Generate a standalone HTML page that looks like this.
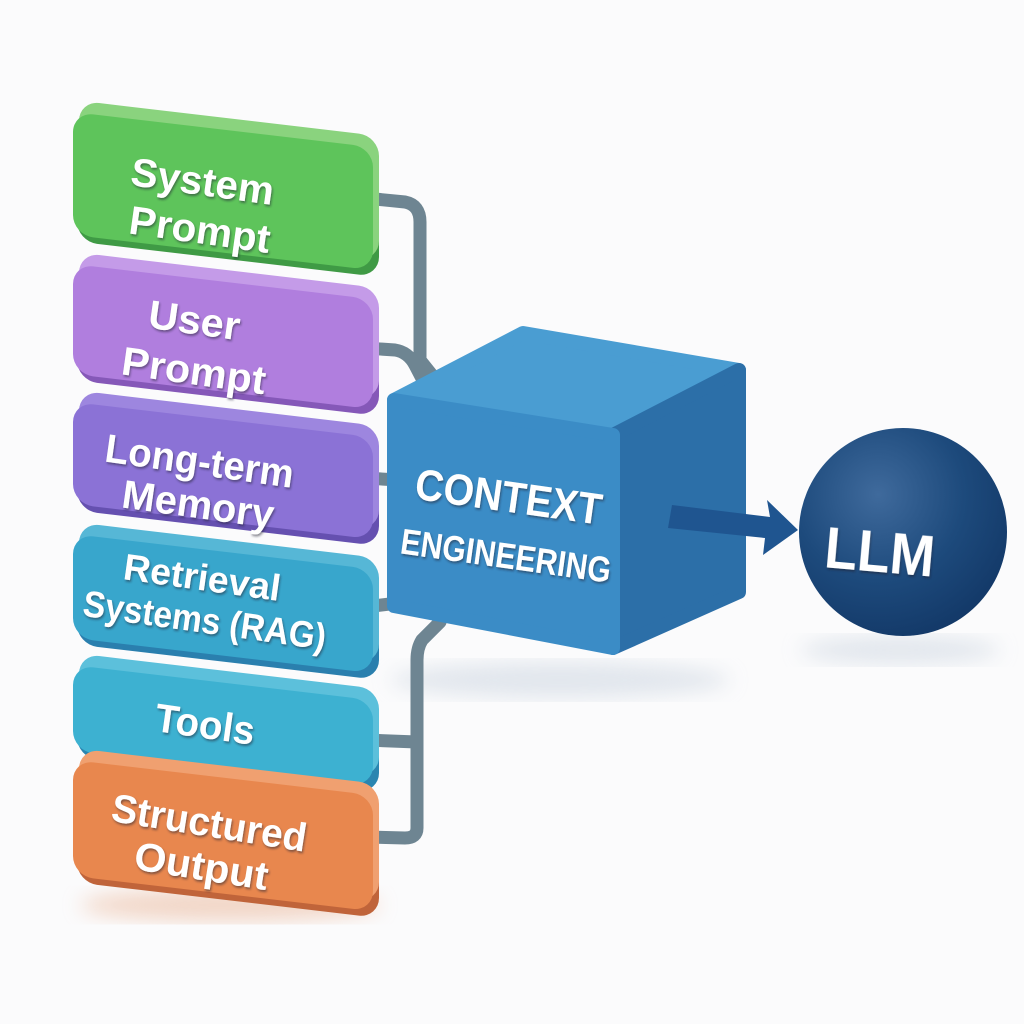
<!DOCTYPE html>
<html><head><meta charset="utf-8"><style>
html,body{margin:0;padding:0;background:#fbfbfc;}
svg{display:block}
text{font-family:"Liberation Sans","DejaVu Sans",sans-serif;font-weight:bold;fill:#fff;}
</style></head><body>
<svg width="1024" height="1024" viewBox="0 0 1024 1024" xmlns="http://www.w3.org/2000/svg">
<defs>
<radialGradient id="sph" cx="0.38" cy="0.32" r="0.75">
<stop offset="0" stop-color="#3f6a9c"/><stop offset="0.55" stop-color="#1d4a7c"/><stop offset="1" stop-color="#123766"/>
</radialGradient>
<filter id="ts"><feDropShadow dx="1" dy="2" stdDeviation="1" flood-color="#223" flood-opacity="0.5"/></filter>
<filter id="bl"><feGaussianBlur stdDeviation="10"/></filter>
</defs>
<ellipse cx="230" cy="905" rx="150" ry="16" fill="#e8b090" opacity="0.5" filter="url(#bl)"/>
<ellipse cx="560" cy="680" rx="170" ry="18" fill="#c8d2de" opacity="0.5" filter="url(#bl)"/>
<ellipse cx="900" cy="650" rx="100" ry="14" fill="#c8d2de" opacity="0.5" filter="url(#bl)"/>

<!-- pipes -->
<g fill="none" stroke="#6e8592" stroke-width="13" stroke-linecap="round" stroke-linejoin="round">
<path d="M365 198 L405 202 Q420 205 420 222 L420 360 L440 385"/>
<path d="M365 348 L395 350 Q408 352 415 365 L428 390"/>
<path d="M365 478 L398 480"/>
<path d="M365 607 L398 603"/>
<path d="M440 622 L422 640 Q417 648 417 660 L417 828 Q417 838 405 838 L365 837"/>
<path d="M365 740 L417 742"/>
</g>

<!-- blocks -->
<g>
<g transform="translate(73,100) skewY(6.7)"><rect x="4" y="16" width="302" height="125" rx="20" fill="#3f9a45"/><rect x="6" y="0" width="300" height="125" rx="20" fill="#8ad37e"/><rect x="0" y="12" width="300" height="123" rx="20" fill="#5ec45b"/></g>
<g transform="translate(73,252) skewY(6.7)"><rect x="4" y="16" width="302" height="112" rx="20" fill="#8558b8"/><rect x="6" y="0" width="300" height="112" rx="20" fill="#c49be8"/><rect x="0" y="12" width="300" height="110" rx="20" fill="#b07ede"/></g>
<g transform="translate(73,390) skewY(6.7)"><rect x="4" y="16" width="302" height="104" rx="20" fill="#6550b0"/><rect x="6" y="0" width="300" height="104" rx="20" fill="#9d86df"/><rect x="0" y="12" width="300" height="102" rx="20" fill="#8b72d6"/></g>
<g transform="translate(73,522) skewY(6.7)"><rect x="4" y="16" width="302" height="106" rx="20" fill="#2a7fae"/><rect x="6" y="0" width="300" height="106" rx="20" fill="#56b7d6"/><rect x="0" y="12" width="300" height="104" rx="20" fill="#38a6cc"/></g>
<g transform="translate(73,653) skewY(6.7)"><rect x="4" y="16" width="302" height="88" rx="20" fill="#2a85b0"/><rect x="6" y="0" width="300" height="88" rx="20" fill="#5cc0db"/><rect x="0" y="12" width="300" height="86" rx="20" fill="#3db1d1"/></g>
<g transform="translate(73,748) skewY(6.7)"><rect x="4" y="16" width="302" height="118" rx="20" fill="#c0643a"/><rect x="6" y="0" width="300" height="118" rx="20" fill="#f0a070"/><rect x="0" y="12" width="300" height="116" rx="20" fill="#e8874e"/></g>
</g>

<g filter="url(#ts)" font-size="40" lengthAdjust="spacingAndGlyphs">
<g transform="rotate(8 200 200)"><text x="128" y="195" textLength="144" lengthAdjust="spacingAndGlyphs">System</text><text x="133" y="243" textLength="142" lengthAdjust="spacingAndGlyphs">Prompt</text></g>
<g transform="rotate(8 200 345)"><text x="145" y="335" textLength="92" lengthAdjust="spacingAndGlyphs">User</text><text x="125" y="385" textLength="145" lengthAdjust="spacingAndGlyphs">Prompt</text></g>
<g transform="rotate(8 200 480)"><text x="102" y="475" textLength="190" lengthAdjust="spacingAndGlyphs">Long-term</text><text x="125" y="518" textLength="153" lengthAdjust="spacingAndGlyphs">Memory</text></g>
<g transform="rotate(8 200 600)" font-size="37"><text x="120" y="590" textLength="158" lengthAdjust="spacingAndGlyphs">Retrieval</text><text x="85" y="632" textLength="245" lengthAdjust="spacingAndGlyphs">Systems (RAG)</text></g>
<g transform="rotate(8 205 725)"><text x="155" y="738" textLength="100" lengthAdjust="spacingAndGlyphs">Tools</text></g>
<g transform="rotate(9 205 840)"><text x="108" y="836" textLength="197" lengthAdjust="spacingAndGlyphs">Structured</text><text x="138" y="880" textLength="135" lengthAdjust="spacingAndGlyphs">Output</text></g>
</g>

<!-- cube -->
<g stroke-linejoin="round" stroke-width="14">
<polygon points="394,400 523,333 739,370 613,435" fill="#4a9dd2" stroke="#4a9dd2"/>
<polygon points="613,435 739,370 739,592 613,648" fill="#2c6fa8" stroke="#2c6fa8"/>
<polygon points="394,400 613,435 613,648 394,606" fill="#3b8cc6" stroke="#3b8cc6"/>
</g>
<g filter="url(#ts)">
<g transform="rotate(8 510 495)"><text x="415" y="512" font-size="44" textLength="188" lengthAdjust="spacingAndGlyphs">CONTEXT</text></g>
<g transform="rotate(8 505 555)"><text x="400" y="568" font-size="36" textLength="212" lengthAdjust="spacingAndGlyphs">ENGINEERING</text></g>
</g>

<!-- arrow -->
<path d="M672 505 L770 517 L767 500 L798 530 L763 555 L765 538 L668 528 Z" fill="#1f5590"/>

<!-- sphere -->
<circle cx="903" cy="532" r="104" fill="url(#sph)"/>
<g transform="rotate(5 880 550)"><text x="825" y="572" font-size="58" textLength="110" lengthAdjust="spacingAndGlyphs" fill="#eef0f4" filter="url(#ts)">LLM</text></g>
</svg>
</body></html>
